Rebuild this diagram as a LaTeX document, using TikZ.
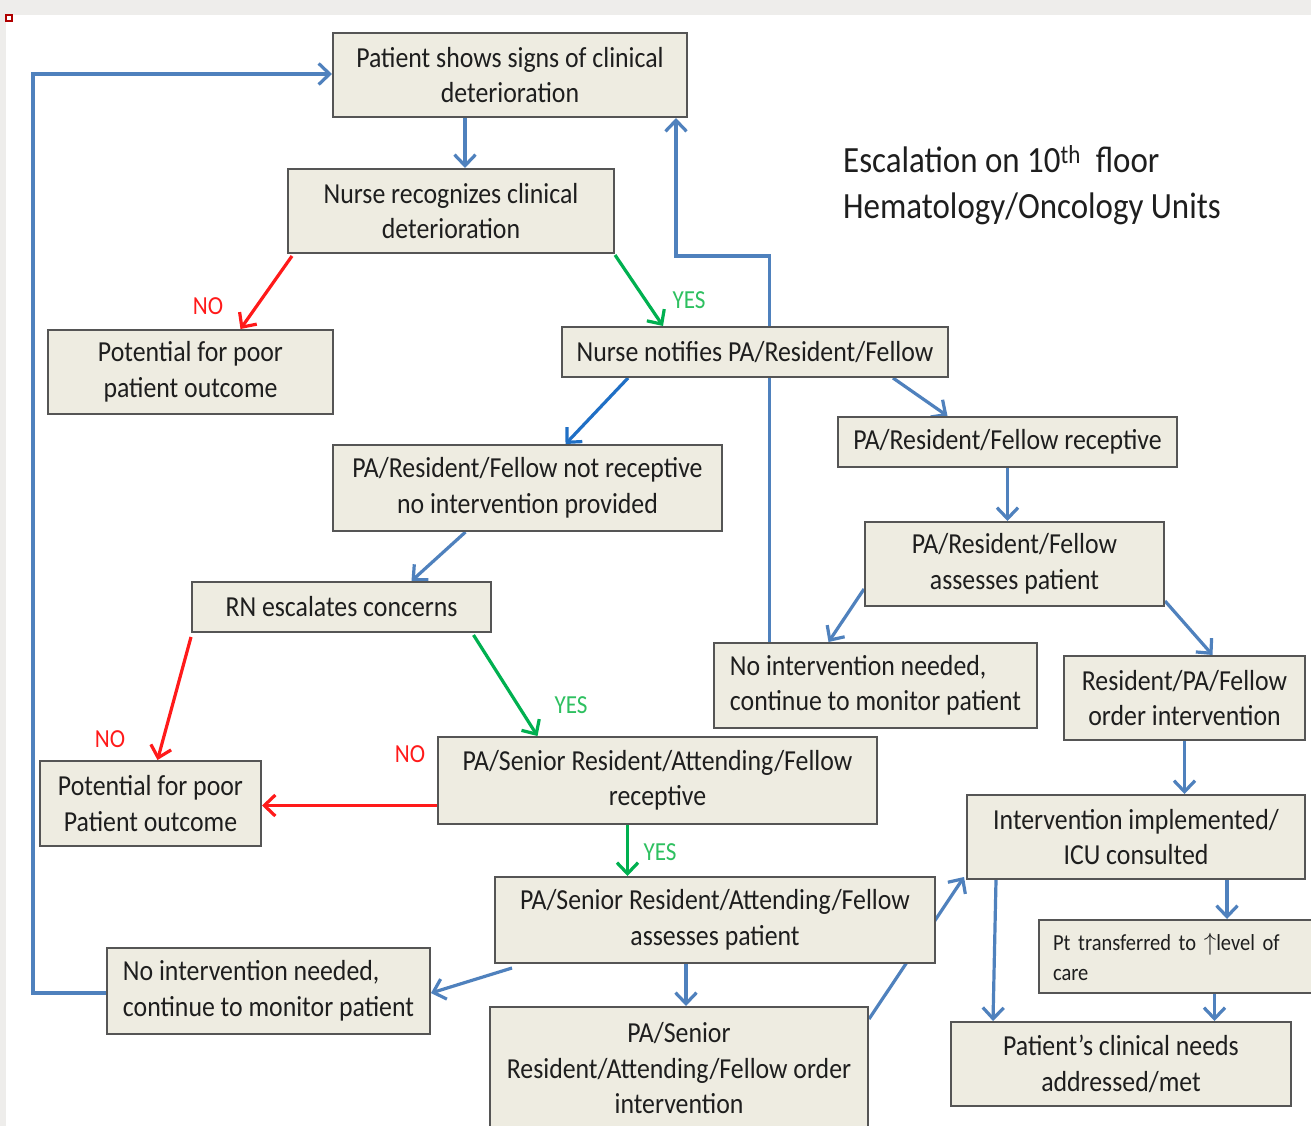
\documentclass[tikz,border=0pt]{standalone}
\usepackage{fontspec}
\setmainfont{Carlito}[FakeStretch=0.89]
\usetikzlibrary{arrows.meta}
\definecolor{boxfill}{HTML}{EEECE1}
\definecolor{boxline}{HTML}{555555}
\definecolor{flowblue}{HTML}{4F81BD}
\definecolor{brightblue}{HTML}{1F6FC5}
\definecolor{flowred}{HTML}{FF1A1A}
\definecolor{flowgreen}{HTML}{00B050}
\definecolor{labgreen}{HTML}{2EC060}
\definecolor{txt}{HTML}{1E1E1E}
\definecolor{chrome}{HTML}{EEEDEB}
\definecolor{marker}{HTML}{B00000}
\pgfdeclarelayer{frame}
\pgfdeclarelayer{background}
\pgfsetlayers{frame,background,main}

\begin{document}
\begin{tikzpicture}[x=1pt, y=-1pt,
  box/.style={draw=boxline, line width=2pt, fill=boxfill, text=txt,
    font=\fontsize{29}{35.5}\selectfont, align=center, inner sep=0pt},
  lbox/.style={box, align=left},
  sz/.style 2 args={minimum width=#1, minimum height=#2},
  flow/.style={draw=flowblue, line width=3.2pt, line join=miter,
    -{Straight Barb[length=11pt,width=21pt]}},
  flowno/.style={flow, draw=flowred},
  flowyes/.style={flow, draw=flowgreen},
  nolab/.style={text=flowred, font=\fontsize{26}{30}\selectfont, inner sep=0pt},
  yeslab/.style={text=labgreen, font=\fontsize{26}{30}\selectfont, inner sep=0pt}]

\useasboundingbox (0,0) rectangle (1311,1126);
% window frame
\begin{pgfonlayer}{frame}
\fill[white] (0,0) rectangle (1311,1126);
\fill[chrome] (0,0) rectangle (1311,15);
\fill[chrome] (0,0) rectangle (6,1126);
\draw[marker, line width=2pt] (5.5,15.5) rectangle (11.5,21.5);
\end{pgfonlayer}

% title
\node[anchor=west, align=left, inner sep=0pt, text=txt,
  font=\fontsize{37}{46}\selectfont] (title) at (843,185)
  {Escalation on 10\textsuperscript{th}\ \ floor\\Hematology/Oncology Units};

% steps
\node[box, sz={354}{84}] (B1) at (510,75) {Patient shows signs of clinical\\deterioration};
\node[box, sz={326}{84}] (B2) at (451,211) {Nurse recognizes clinical\\deterioration};
\node[box, sz={285}{84}] (B3) at (190.5,372) {Potential for poor\\patient outcome};
\node[box, sz={386}{50}] (B4) at (755,352) {Nurse notifies PA/Resident/Fellow};
\node[box, sz={389}{86}] (B5) at (527.5,488) {PA/Resident/Fellow not receptive\\no intervention provided};
\node[box, sz={339}{50}] (B6) at (1007.5,442) {PA/Resident/Fellow receptive};
\node[box, sz={299}{84}] (B7) at (1014.5,564) {PA/Resident/Fellow\\assesses patient};
\node[box, sz={299}{50}] (B8) at (341.5,607) {RN escalates concerns};
\node[lbox, sz={323}{85}] (B9) at (875.5,685.5) {No intervention needed,\\continue to monitor patient};
\node[box, sz={241}{84}] (B10) at (1184.5,698) {Resident/PA/Fellow\\order intervention};
\node[box, sz={221}{85}] (B11) at (150.5,803.5) {Potential for poor\\Patient outcome};
\node[box, sz={439}{87}] (B12) at (657.5,780.5) {PA/Senior Resident/Attending/Fellow\\receptive};
\node[box, sz={338}{84}] (B13) at (1136,837) {Intervention implemented/\\ICU consulted};
\node[box, sz={440}{86}] (B14) at (715,920) {PA/Senior Resident/Attending/Fellow\\assesses patient};
\node[lbox, sz={323}{86}] (B15) at (268.5,991) {No intervention needed,\\continue to monitor patient};
\node[lbox, inner xsep=14pt, text width=251pt, minimum height=73,
  font=\fontsize{23}{30}\selectfont] (B16) at (1178.5,956.5) {Pt transferred to $\uparrow$level of\\care};
\node[box, sz={378}{123}] (B17) at (679,1068.5) {PA/Senior\\Resident/Attending/Fellow order\\intervention};
\node[box, sz={340}{84}] (B18) at (1121,1064) {Patient’s clinical needs\\addressed/met};

% branch labels
\node[nolab] (no1) at (208,306) {NO};
\node[yeslab] (yes1) at (689,300) {YES};
\node[nolab] (no2) at (110,739) {NO};
\node[yeslab] (yes2) at (571,705) {YES};
\node[nolab] (no3) at (410,754) {NO};
\node[yeslab] (yes3) at (660,852) {YES};

\coordinate (loopL) at (33,74);
\coordinate (loopR) at (676,256);

\begin{pgfonlayer}{background}
\draw[flow] ([xshift=-45pt]B1.south) -- ([xshift=14pt]B2.north);
\draw[flowno] ([xshift=5pt,yshift=-2pt]B2.south west) -- ([xshift=50pt]B3.north);
\draw[flowyes] ([yshift=-1pt]B2.south east) -- ([xshift=-92pt]B4.north);
\draw[flow, draw=brightblue] ([xshift=-127pt]B4.south) -- ([xshift=38pt]B5.north);
\draw[flow] ([xshift=138pt]B4.south) -- ([xshift=-60pt]B6.north);
\draw[flow] (B6.south) -- (B6.south |- B7.north);
\draw[flow] ([yshift=18pt]B7.south west) -- ([xshift=-47pt]B9.north);
\draw[flow] ([yshift=6pt]B7.south east) -- ([xshift=28pt]B10.north);
\draw[flow] ([xshift=-62pt]B5.south) -- ([xshift=70pt]B8.north);
\draw[flowno] ([yshift=-4pt]B8.south west) -- ([xshift=7pt]B11.north);
\draw[flowyes] ([xshift=132pt,yshift=-2pt]B8.south) -- ([xshift=-120pt]B12.north);
\draw[flowno] ([yshift=-25pt]B12.west) coordinate (nofrom) -- (nofrom -| B11.east);
\draw[flowyes] ([xshift=-30pt]B12.south) coordinate (yesfrom) -- (yesfrom |- B14.north);
\draw[flow] ([xshift=18pt,yshift=-4pt]B14.south west) -- ([yshift=-2pt]B15.east);
\draw[flow] ([xshift=-29pt]B14.south) coordinate (ordfrom) -- (ordfrom |- B17.north);
\draw[flow] ([yshift=-13pt]B17.north east) -- ([xshift=-2pt,yshift=3pt]B13.south west);
\draw[flow] (B10.south) -- (B10.south |- B13.north);
\draw[flow] ([xshift=30pt]B13.south west) -- ([xshift=-128pt]B18.north);
\draw[flow] ([xshift=91pt]B13.south) coordinate (icufrom) -- (icufrom |- B16.north);
\draw[flow] ([xshift=36pt]B16.south) coordinate (trfrom) -- (trfrom |- B18.north);
% return loops to the first step
\draw[flow] ([yshift=-2pt]B15.west) -| (loopL) -- (loopL -| B1.west);
\draw[flow] ([xshift=-106pt]B9.north) |- (loopR) -- (loopR |- B1.south);
\end{pgfonlayer}
\end{tikzpicture}
\end{document}
